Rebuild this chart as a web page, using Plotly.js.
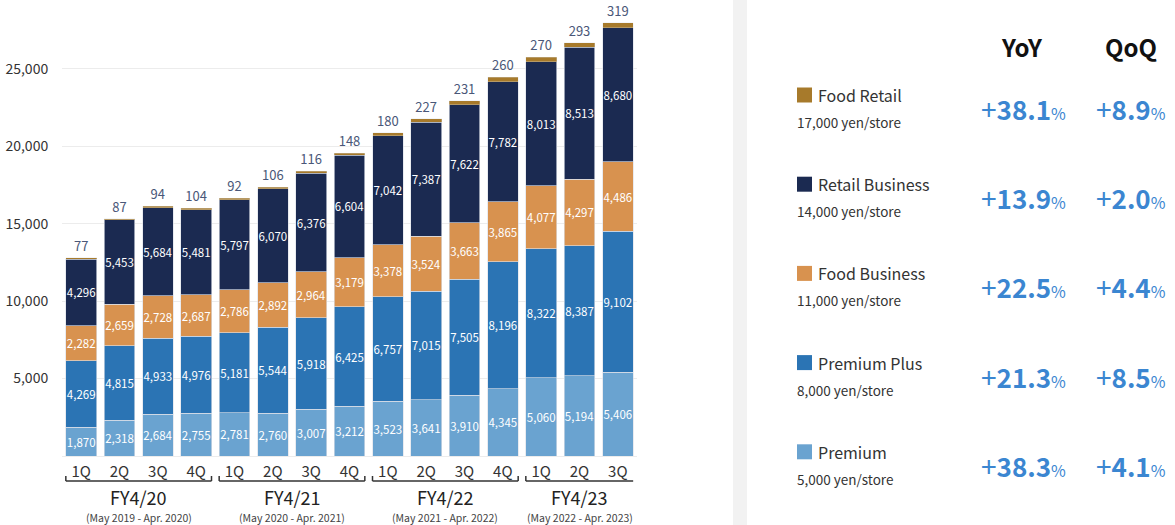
<!DOCTYPE html>
<html>
<head>
<meta charset="utf-8">
<script src="https://cdn.plot.ly/plotly-3.0.1.min.js"></script>
<style>
  html, body { margin: 0; padding: 0; background: #fff; }
  #chart { width: 1175px; height: 525px; }
</style>
</head>
<body>
<div id="chart"></div>
<script>
// Quarterly stacked totals by plan, FY4/20 – FY4/23 3Q
const fiscalYears = ['FY4/20', 'FY4/21', 'FY4/22', 'FY4/23'];
const fiscalPeriods = ['(May 2019 - Apr. 2020)', '(May 2020 - Apr. 2021)', '(May 2021 - Apr. 2022)', '(May 2022 - Apr. 2023)'];
const quartersPerYear = [4, 4, 4, 3];
const quarterNames = ['1Q', '2Q', '3Q', '4Q'];

const premium        = [1870, 2318, 2684, 2755, 2781, 2760, 3007, 3212, 3523, 3641, 3910, 4345, 5060, 5194, 5406];
const premiumPlus    = [4269, 4815, 4933, 4976, 5181, 5544, 5918, 6425, 6757, 7015, 7505, 8196, 8322, 8387, 9102];
const foodBusiness   = [2282, 2659, 2728, 2687, 2786, 2892, 2964, 3179, 3378, 3524, 3663, 3865, 4077, 4297, 4486];
const retailBusiness = [4296, 5453, 5684, 5481, 5797, 6070, 6376, 6604, 7042, 7387, 7622, 7782, 8013, 8513, 8680];
const foodRetail     = [77, 87, 94, 104, 92, 106, 116, 148, 180, 227, 231, 260, 270, 293, 319];

// Side panel: plan names, price per store, growth rates (top row first)
const planNames  = ['Food Retail', 'Retail Business', 'Food Business', 'Premium Plus', 'Premium'];
const planPrices = ['17,000 yen/store', '14,000 yen/store', '11,000 yen/store', '8,000 yen/store', '5,000 yen/store'];
const yoyGrowth  = ['+38.1', '+13.9', '+22.5', '+21.3', '+38.3'];
const qoqGrowth  = ['+8.9', '+2.0', '+4.4', '+8.5', '+4.1'];

const yTicks = [5000, 10000, 15000, 20000, 25000];

const colors = {
  'Premium': '#6aa3d0',
  'Premium Plus': '#2b74b4',
  'Food Business': '#d8924f',
  'Retail Business': '#1b2a51',
  'Food Retail': '#a77a2b'
};

const FONT = '"Noto Sans CJK JP", "Noto Sans", sans-serif';
const W = 1175, H = 525, TOP = 7, BOTTOM = 69;
const plotH = H - TOP - BOTTOM;
// pixel -> paper helpers for the decorations around the plot
const px = x => x / W;
const py = y => (H - BOTTOM - y) / plotH;

// category keys + quarter tick labels
const cats = [], tickText = [];
fiscalYears.forEach((fy, g) => {
  for (let q = 0; q < quartersPerYear[g]; q++) {
    cats.push(fy + ' ' + quarterNames[q]);
    tickText.push(quarterNames[q]);
  }
});

const segLine = { color: 'rgba(220,224,232,0.8)', width: 0.8 };
function insideTrace(name, values) {
  return {
    type: 'bar', name, x: cats, y: values,
    marker: { color: colors[name], line: segLine },
    texttemplate: '%{y:,d}',
    textposition: 'inside', insidetextanchor: 'middle', textangle: 0,
    textfont: { family: FONT, size: 11.5, color: '#ffffff' },
    hoverinfo: 'x+y+name'
  };
}

const data = [
  insideTrace('Premium', premium),
  insideTrace('Premium Plus', premiumPlus),
  insideTrace('Food Business', foodBusiness),
  insideTrace('Retail Business', retailBusiness),
  {
    type: 'bar', name: 'Food Retail', x: cats, y: foodRetail,
    marker: { color: colors['Food Retail'], line: { color: 'rgba(220,224,232,0.6)', width: 0.5 } },
    texttemplate: '%{y:,d}',
    textposition: 'outside', textangle: 0,
    textfont: { family: FONT, size: 13, color: '#4a5778' },
    cliponaxis: false
  }
];

const shapes = [];
const annotations = [];

// brackets + fiscal-year captions under the quarter labels
const half = 0.4;
let start = 0;
fiscalYears.forEach((fy, g) => {
  const n = quartersPerYear[g];
  const x0 = start - half, x1 = start + n - 1 + half;
  const yl = py(481), yt = py(476);
  const line = { color: '#333', width: 1.5 };
  shapes.push({ type: 'line', xref: 'x', yref: 'paper', x0, x1, y0: yl, y1: yl, line });
  shapes.push({ type: 'line', xref: 'x', yref: 'paper', x0, x1: x0, y0: yl, y1: yt, line });
  if (n === 4) shapes.push({ type: 'line', xref: 'x', yref: 'paper', x0: x1, x1, y0: yl, y1: yt, line });
  const xc = start + (n - 1) / 2;
  annotations.push({ xref: 'x', yref: 'paper', x: xc, y: py(497), text: fy, showarrow: false,
    font: { family: FONT, size: 18, color: '#222' }, xanchor: 'center', yanchor: 'middle' });
  annotations.push({ xref: 'x', yref: 'paper', x: xc, y: py(517), text: fiscalPeriods[g], showarrow: false,
    font: { family: FONT, size: 10.5, color: '#444' }, xanchor: 'center', yanchor: 'middle' });
  start += n;
});

// divider strip between chart and side panel
shapes.push({ type: 'rect', xref: 'paper', yref: 'paper', x0: px(733), x1: px(747), y0: py(H), y1: py(0),
  fillcolor: '#f2f2f2', line: { width: 0 }, layer: 'below' });

// side panel headers
annotations.push({ xref: 'paper', yref: 'paper', x: px(1022), y: py(47), text: '<b>YoY</b>', showarrow: false,
  font: { family: FONT, size: 24, color: '#111' }, xanchor: 'center', yanchor: 'middle' });
annotations.push({ xref: 'paper', yref: 'paper', x: px(1131), y: py(47), text: '<b>QoQ</b>', showarrow: false,
  font: { family: FONT, size: 24, color: '#111' }, xanchor: 'center', yanchor: 'middle' });

// side panel rows
const rowTop = 95, rowStep = 89.2;
const growthBlue = '#3b86d1';
const pct = v => '<span style="font-size:28px">' + v.charAt(0) + '</span><b>' + v.slice(1) +
  '</b><span style="font-size:16px">%</span>';
planNames.forEach((name, i) => {
  const yc = rowTop + i * rowStep;
  shapes.push({ type: 'rect', xref: 'paper', yref: 'paper', x0: px(797), x1: px(812), y0: py(yc - 7.5), y1: py(yc + 7.5),
    fillcolor: colors[name], line: { width: 0 } });
  annotations.push({ xref: 'paper', yref: 'paper', x: px(816), y: py(yc), text: name, showarrow: false,
    font: { family: FONT, size: 16, color: '#333' }, xanchor: 'left', yanchor: 'middle' });
  annotations.push({ xref: 'paper', yref: 'paper', x: px(795), y: py(yc + 27), text: planPrices[i], showarrow: false,
    font: { family: FONT, size: 13.5, color: '#333' }, xanchor: 'left', yanchor: 'middle' });
  annotations.push({ xref: 'paper', yref: 'paper', x: px(1068), y: py(yc + 13), text: pct(yoyGrowth[i]), showarrow: false,
    font: { family: FONT, size: 26, color: growthBlue }, xanchor: 'right', yanchor: 'middle' });
  annotations.push({ xref: 'paper', yref: 'paper', x: px(1168), y: py(yc + 13), text: pct(qoqGrowth[i]), showarrow: false,
    font: { family: FONT, size: 26, color: growthBlue }, xanchor: 'right', yanchor: 'middle' });
});

const layout = {
  width: W, height: H,
  margin: { l: 0, r: 0, t: TOP, b: BOTTOM },
  paper_bgcolor: '#ffffff', plot_bgcolor: '#ffffff',
  barmode: 'stack', bargap: 0.2,
  showlegend: false,
  uniformtext: { mode: 'show', minsize: 11.5 },
  font: { family: FONT, color: '#333' },
  xaxis: {
    domain: [px(62), px(637)],
    type: 'category', categoryorder: 'array', categoryarray: cats,
    tickvals: cats, ticktext: tickText,
    tickfont: { family: FONT, size: 15, color: '#333' },
    ticks: 'outside', ticklen: 2, tickcolor: 'rgba(0,0,0,0)',
    showgrid: false, showline: false, zeroline: false
  },
  yaxis: {
    range: [0, 29000],
    tickvals: yTicks, tickformat: ',d',
    tickfont: { family: FONT, size: 14, color: '#333' },
    ticks: 'outside', ticklen: 10, tickcolor: 'rgba(0,0,0,0)',
    showgrid: true, gridcolor: '#ececec', gridwidth: 1,
    zeroline: true, zerolinecolor: '#ececec', zerolinewidth: 1,
    showline: false
  },
  shapes, annotations
};

Plotly.newPlot('chart', data, layout, { displayModeBar: false, staticPlot: true });
</script>
</body>
</html>
